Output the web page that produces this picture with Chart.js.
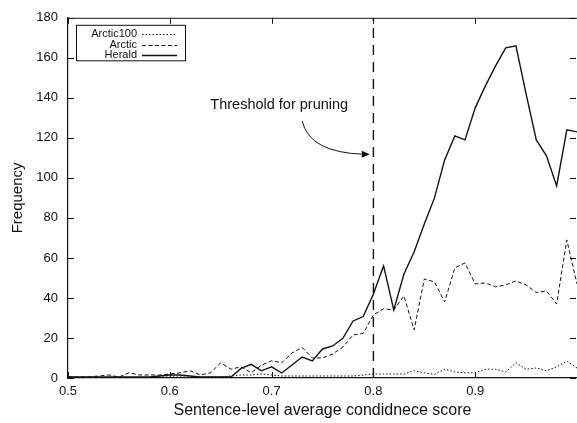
<!DOCTYPE html>
<html lang="en">
<head>
  <meta charset="UTF-8" />
  <title>Confidence score histogram</title>
  <script src="https://cdn.jsdelivr.net/npm/chart.js"></script>
  <style>
    html, body { margin: 0; padding: 0; background: #fff; }
    #wrap { width: 577px; height: 423px; position: relative; }
  </style>
</head>
<body>
  <div id="wrap"><canvas id="scoreChart"></canvas></div>

  <script>
    // sentence-level confidence score bins
    const scores = [
      0.50, 0.51, 0.52, 0.53, 0.54, 0.55, 0.56, 0.57, 0.58, 0.59,
      0.60, 0.61, 0.62, 0.63, 0.64, 0.65, 0.66, 0.67, 0.68, 0.69,
      0.70, 0.71, 0.72, 0.73, 0.74, 0.75, 0.76, 0.77, 0.78, 0.79,
      0.80, 0.81, 0.82, 0.83, 0.84, 0.85, 0.86, 0.87, 0.88, 0.89,
      0.90, 0.91, 0.92, 0.93, 0.94, 0.95, 0.96, 0.97, 0.98, 0.99, 1.00
    ];

    const arctic100 = [
      0, 0, 0, 0, 0, 0, 0, 0, 0, 0.5,
      0.5, 0.5, 0.5, 0.5, 0.5, 0.5, 1, 1.5, 1.5, 2,
      1.5, 1, 1, 1, 1, 1, 1, 1, 1, 1.5,
      2, 2, 2, 2, 3.6, 2.6, 1.8, 4.4, 3, 2.6,
      2.6, 4.4, 4.4, 3, 7.6, 4.4, 5, 3.6, 5.6, 8.4, 5
    ];

    const arctic = [
      0.5, 0.5, 0.5, 1, 1.5, 0.5, 2.6, 1.5, 1.5, 1.5,
      2, 2.6, 3.6, 1.5, 2.6, 7.6, 4.4, 5.6, 2.6, 6.4,
      8.6, 7.6, 12.5, 15.3, 10, 10, 12, 15.5, 21.5, 22.3,
      31.5, 34.6, 34, 41, 24, 49.5, 48, 38, 55, 57.5,
      47, 47.5, 45.6, 46.5, 48.5, 46.5, 42.7, 43.5, 37, 69, 47
    ];

    const herald = [
      0.5, 0.5, 0.5, 0.5, 0.5, 0.5, 0.5, 0.5, 0.5, 1,
      1.5, 1.5, 1, 0.5, 0.5, 0.5, 0.5, 4.8, 6.8, 3.6,
      5.6, 2.5, 6.5, 10.5, 8.5, 14.5, 16, 19.8, 28.5, 30.7,
      42, 56, 34, 52, 63, 77, 90, 109, 121, 119,
      135, 146, 156, 165, 166, 142, 119, 111, 96, 124, 123
    ];

    const yTicks = [0, 20, 40, 60, 80, 100, 120, 140, 160, 180];
    const threshold = 0.8;
    const noteText = 'Threshold for pruning';
    const notePos = [0.7075, 136.5];
    const arrowFrom = [0.730, 128.5];
    const arrowBend = [0.737, 112.5];
    const arrowTo = [0.7965, 111.8];

    const FONT = '"Liberation Sans", Arial, Helvetica, sans-serif';
    const INK = '#111';

    function pts(values) {
      return scores.map((s, i) => ({ x: s, y: values[i] }));
    }

    // inward ticks + top/right frame, like the original plot
    const framePlugin = {
      id: 'frame',
      afterDraw(chart) {
        const { ctx, chartArea: a, scales } = chart;
        ctx.save();
        ctx.strokeStyle = INK;
        ctx.lineWidth = 1;
        ctx.beginPath();
        ctx.moveTo(a.left, a.top + 0.5);
        ctx.lineTo(a.right, a.top + 0.5);
        const len = 6;
        scales.y.ticks.forEach(t => {
          const y = Math.round(scales.y.getPixelForValue(t.value)) + 0.5;
          ctx.moveTo(a.left, y); ctx.lineTo(a.left + len, y);
          ctx.moveTo(a.right - 1, y); ctx.lineTo(a.right - 1 - len, y);
        });
        scales.x.ticks.forEach(t => {
          const x = Math.round(scales.x.getPixelForValue(t.value)) + 0.5;
          ctx.moveTo(x, a.bottom); ctx.lineTo(x, a.bottom - len);
          ctx.moveTo(x, a.top); ctx.lineTo(x, a.top + len);
        });
        ctx.stroke();
        ctx.restore();
      }
    };

    // boxed legend with text on the left, line sample on the right
    const legendBox = {
      id: 'legendBox',
      afterDraw(chart) {
        const { ctx, chartArea: a } = chart;
        const x0 = a.left + 8, y0 = a.top + 7, w = 109, rowH = 10.5;
        const items = chart.data.datasets.filter(d => d.label);
        ctx.save();
        ctx.fillStyle = '#fff';
        ctx.fillRect(x0, y0, w, items.length * rowH + 4);
        ctx.strokeStyle = INK;
        ctx.lineWidth = 1;
        ctx.strokeRect(x0 + 0.5, y0 + 0.5, w, items.length * rowH + 4);
        ctx.font = '11px ' + FONT;
        ctx.textAlign = 'right';
        ctx.textBaseline = 'middle';
        items.forEach((d, i) => {
          const y = y0 + 4 + rowH * i + rowH / 2;
          ctx.fillStyle = INK;
          ctx.fillText(d.label, x0 + 61, y);
          ctx.beginPath();
          ctx.setLineDash(d.borderDash || []);
          ctx.lineWidth = d.borderWidth;
          ctx.moveTo(x0 + 66, Math.round(y) + 0.5);
          ctx.lineTo(x0 + 101, Math.round(y) + 0.5);
          ctx.stroke();
        });
        ctx.restore();
      }
    };

    // "Threshold for pruning" note with curved arrow
    const notePlugin = {
      id: 'note',
      afterDraw(chart) {
        const { ctx, scales: { x, y } } = chart;
        const px = p => [x.getPixelForValue(p[0]), y.getPixelForValue(p[1])];
        const [tx, ty] = px(notePos);
        const [ax, ay] = px(arrowFrom);
        const [cx, cy] = px(arrowBend);
        const [bx, by] = px(arrowTo);
        ctx.save();
        ctx.fillStyle = INK;
        ctx.font = '14.5px ' + FONT;
        ctx.textAlign = 'center';
        ctx.textBaseline = 'middle';
        ctx.fillText(noteText, tx, ty);
        ctx.strokeStyle = INK;
        ctx.lineWidth = 1;
        ctx.beginPath();
        ctx.moveTo(ax, ay);
        ctx.quadraticCurveTo(cx, cy, bx - 5, by);
        ctx.stroke();
        ctx.beginPath();
        ctx.moveTo(bx, by);
        ctx.lineTo(bx - 8, by - 3.5);
        ctx.lineTo(bx - 8, by + 3.5);
        ctx.closePath();
        ctx.fill();
        ctx.restore();
      }
    };

    new Chart(document.getElementById('scoreChart'), {
      type: 'line',
      data: {
        datasets: [
          {
            label: 'Arctic100',
            data: pts(arctic100),
            borderColor: INK,
            borderWidth: 1,
            borderDash: [1.5, 2],
            pointRadius: 0,
            tension: 0
          },
          {
            label: 'Arctic',
            data: pts(arctic),
            borderColor: INK,
            borderWidth: 1,
            borderDash: [4, 2.5],
            pointRadius: 0,
            tension: 0
          },
          {
            label: 'Herald',
            data: pts(herald),
            borderColor: INK,
            borderWidth: 1.4,
            pointRadius: 0,
            tension: 0
          },
          {
            data: [{ x: threshold, y: 0 }, { x: threshold, y: 180 }],
            borderColor: INK,
            borderWidth: 1.4,
            borderDash: [10, 7],
            pointRadius: 0
          }
        ]
      },
      options: {
        responsive: true,
        maintainAspectRatio: false,
        animation: false,
        layout: { padding: { top: 14, right: 0, left: 0, bottom: 0 } },
        plugins: {
          legend: { display: false },
          tooltip: { enabled: false }
        },
        scales: {
          x: {
            type: 'linear',
            min: 0.5,
            max: 1.0,
            afterFit(scale) {
              scale.height = 45;
              scale.paddingRight = 0;
              scale.paddingLeft = 0;
            },
            afterBuildTicks(scale) {
              scale.ticks = scores.filter((s, i) => i % 10 === 0).map(v => ({ value: v }));
            },
            ticks: {
              color: INK,
              font: { family: FONT, size: 13 },
              padding: 6,
              maxRotation: 0,
              callback: v => v === 1 ? '' : v.toFixed(1)
            },
            grid: { drawOnChartArea: false, drawTicks: false },
            border: { color: INK, width: 1.2 },
            title: {
              display: true,
              text: 'Sentence-level average condidnece score',
              color: INK,
              font: { family: FONT, size: 16 },
              padding: { top: 0, bottom: 3 }
            }
          },
          y: {
            min: 0,
            max: 180,
            afterFit(scale) { scale.width = 68; },
            afterBuildTicks(scale) {
              scale.ticks = yTicks.map(v => ({ value: v }));
            },
            ticks: {
              color: INK,
              font: { family: FONT, size: 13 },
              padding: 10
            },
            grid: { drawOnChartArea: false, drawTicks: false },
            border: { color: INK, width: 1.2 },
            title: {
              display: true,
              text: 'Frequency',
              color: INK,
              font: { family: FONT, size: 15 },
              padding: { top: 9, bottom: 0 }
            }
          }
        }
      },
      plugins: [framePlugin, legendBox, notePlugin]
    });
  </script>
</body>
</html>
